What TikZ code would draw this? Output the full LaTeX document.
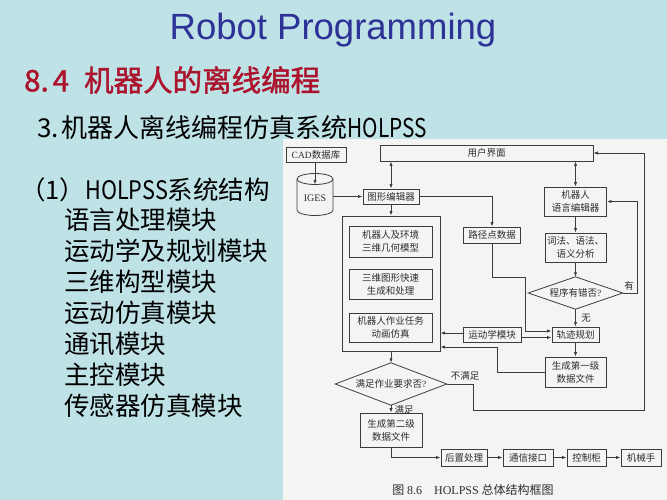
\documentclass[tikz,border=0pt]{standalone}
\usepackage{fontspec}
\usepackage{graphicx}
\usetikzlibrary{arrows.meta}
\newfontfamily\cjk{Noto Sans CJK SC}
\newfontfamily\cjkb[FakeBold=1.5]{Noto Sans CJK SC}
\newfontfamily\lsans{Liberation Sans}
\newfontfamily\lserif{Liberation Serif}
\definecolor{bgc}{RGB}{190,226,230}
\definecolor{panelc}{RGB}{244,244,242}
\definecolor{titleblue}{RGB}{46,50,150}
\definecolor{headred}{RGB}{172,20,45}
\definecolor{linec}{RGB}{60,60,60}
\definecolor{txtc}{RGB}{45,45,45}
\newcommand{\narrowlat}[1]{\scalebox{0.8}[1]{#1}}
\tikzset{
  box/.style={draw=linec, line width=0.8pt, fill=panelc, inner sep=0pt, align=center,
    text=txtc, font={\cjk\fontsize{9.5}{13}\selectfont}},
  lab/.style={inner sep=1pt, text=txtc, font={\cjk\fontsize{9.5}{11}\selectfont}},
  arr/.style={draw=linec, line width=0.8pt, -{Latex[length=4.5pt,width=3.2pt]}},
  darr/.style={draw=linec, line width=0.8pt, {Latex[length=4.5pt,width=3.2pt]}-{Latex[length=4.5pt,width=3.2pt]}},
  bigtext/.style={anchor=west, inner sep=0pt, text=black, font={\cjk\fontsize{25.5}{28}\selectfont}}
}
\begin{document}
\begin{tikzpicture}[x=1pt, y=-1pt]
\useasboundingbox (0,0) rectangle (667,500);
\fill[bgc] (0,0) rectangle (667,500);
\fill[panelc] (283,139) rectangle (667,500);

% titles
\node[inner sep=0pt, text=titleblue, font={\lsans\fontsize{36.5}{40}\selectfont}] (title) at (333,30) {Robot Programming};
\node[anchor=west, inner sep=0pt, text=headred, font={\cjkb\fontsize{29.5}{32}\selectfont}] (head) at (24,80) {8.\hspace{4pt}4\hspace{15pt}机器人的离线编程};
\node[bigtext, font={\cjk\fontsize{26}{28}\selectfont}] (sub) at (37,128) {3.\hspace{3pt}机器人离线编程仿真系统\narrowlat{HOLPSS}};

% list
\node[bigtext] (l0) at (20,190) {（1）\scalebox{0.85}[1]{HOLPSS}系统结构};
\node[bigtext] (l1) at (64,220) {语言处理模块};
\node[bigtext] (l2) at (64,251) {运动学及规划模块};
\node[bigtext] (l3) at (64,282) {三维构型模块};
\node[bigtext] (l4) at (64,313) {运动仿真模块};
\node[bigtext] (l5) at (64,344) {通讯模块};
\node[bigtext] (l6) at (64,375) {主控模块};
\node[bigtext] (l7) at (64,406) {传感器仿真模块};

% diagram nodes
\node[box, minimum width=60, minimum height=15] (cad) at (316,154.5) {{\lserif CAD}数据库};
\draw[linec, line width=0.8pt, fill=panelc] (297,179) -- (297,210) arc[start angle=180, end angle=360, x radius=18pt, y radius=5.5pt] -- (333,179);
\draw[linec, line width=0.8pt] (315,179) ellipse[x radius=18pt, y radius=5.5pt];
\node[lab, font={\lserif\fontsize{10}{12}\selectfont}] (iges) at (315,198) {IGES};
\coordinate (igesT) at (315,184.5);
\coordinate (igesR) at (333,196.5);

\node[box, minimum width=213, minimum height=16] (ui) at (486.5,153) {用户界面};
\node[box, minimum width=56, minimum height=15] (ged) at (391,196.5) {图形编辑器};
\node[box, minimum width=98, minimum height=135] (big) at (391,283.5) {};
\node[box, minimum width=83, minimum height=31] (m1) at (390.5,241.5) {机器人及环境\\三维几何模型};
\node[box, minimum width=83, minimum height=30] (m2) at (390.5,284) {三维图形快速\\生成和处理};
\node[box, minimum width=83, minimum height=29] (m3) at (390.5,327.5) {机器人作业任务\\动画仿真};
\node[box, minimum width=57, minimum height=16] (path) at (492,235) {路径点数据};
\node[box, minimum width=58, minimum height=15] (kin) at (492,334.5) {运动学模块};
\node[box, minimum width=62, minimum height=29] (rle) at (575.5,201.5) {机器人\\语言编辑器};
\node[box, minimum width=61, minimum height=29] (lex) at (575.5,247.5) {词法、语法、\\语义分析};
\node[lab, minimum width=94, minimum height=32, inner sep=0pt] (dia1) at (575.5,293) {程序有错否{\lserif ?}};
\draw[linec, line width=0.8pt] (dia1.north) -- (dia1.east) -- (dia1.south) -- (dia1.west) -- cycle;
\node[box, minimum width=47, minimum height=15] (traj) at (575.5,334.5) {轨迹规划};
\node[box, minimum width=61, minimum height=30] (gen1) at (575.5,372) {生成第一级\\数据文件};
\node[lab, minimum width=111, minimum height=42, inner sep=0pt] (dia2) at (391,384) {满足作业要求否{\lserif ?}};
\draw[linec, line width=0.8pt] (dia2.north) -- (dia2.east) -- (dia2.south) -- (dia2.west) -- cycle;
\node[box, minimum width=62, minimum height=34] (gen2) at (391,430) {生成第二级\\数据文件};
\node[box, minimum width=46, minimum height=17] (post) at (464,457.5) {后置处理};
\node[box, minimum width=50, minimum height=17] (comm) at (528,457.5) {通信接口};
\node[box, minimum width=39, minimum height=17] (ctrl) at (586.5,457.5) {控制柜};
\node[box, minimum width=40, minimum height=17] (arm) at (641,457.5) {机械手};
\node[lab, font={\cjk\fontsize{12}{14}\selectfont}] (cap) at (473,490) {图 {\lserif 8.6}\quad{\lserif HOLPSS} 总体结构框图};

% labels
\node[lab] (you) at (629,286) {有};
\node[lab] (wu) at (586,318) {无};
\node[lab] (bmz) at (465,376) {不满足};
\node[lab] (mz) at (404,410) {满足};

% connectors
\draw[arr] (cad.south -| igesT) -- (igesT);
\draw[arr] (igesR) -- (ged.west);
\draw[darr] (ged.north) -- (ged.north |- ui.south);
\draw[arr] (ged.east) -| (path.north);
\draw[arr] (ged.south) -- (big.north);
\draw[darr] (rle.north) -- (rle.north |- ui.south);
\draw[arr] (rle.south) -- (lex.north);
\draw[arr] (lex.south) -- (dia1.north);
\draw[arr] (dia1.south) -- (traj.north);
\draw[arr] (dia1.east) -- ++(15,0) |- (rle.east);
\draw[arr] (traj.south) -- (gen1.north);
\draw[arr] (path.south) -- ++(0,34) -- ++(33,0) |- ([yshift=3.5pt]traj.west);
\draw[arr] ([yshift=-3pt]kin.east) -- ([yshift=-3pt]traj.west);
\draw[arr] ([yshift=1.5pt]kin.west) -- ([yshift=1.5pt]kin.west -| big.east);
\draw[arr] (gen1.west) -- ++(-47,0) |- ([yshift=-63.5pt]big.east);
\draw[arr] (big.south) -- (dia2.north);
\draw[arr] (dia2.east) -- ++(27,0) -- ++(0,26) -- ++(171,0) |- (ui.east);
\draw[arr] (dia2.south) -- (gen2.north);
\draw[arr] (gen2.south) |- (post.west);
\draw[arr] (post) -- (comm);
\draw[arr] (comm) -- (ctrl);
\draw[arr] (ctrl) -- (arm);
\end{tikzpicture}
\end{document}
